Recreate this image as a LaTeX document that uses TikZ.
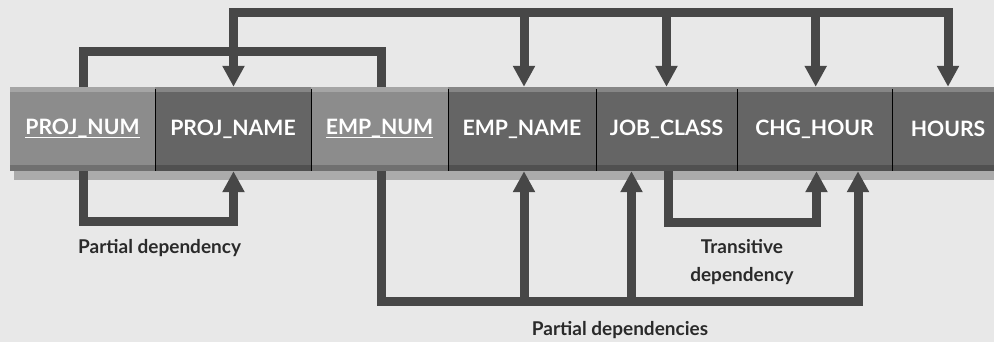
\documentclass[tikz,border=0pt]{standalone}
\usepackage{fontspec}
\setmainfont{Lato}
\usetikzlibrary{arrows.meta,calc}

\definecolor{bgc}{HTML}{E8E8E8}
\definecolor{linkc}{HTML}{474747}
\definecolor{keyc}{HTML}{8C8C8C}
\definecolor{attc}{HTML}{656565}
\definecolor{shadowc}{HTML}{ABABAB}
\definecolor{lblc}{HTML}{2A2A2A}

% underline for key attributes, set just under the baseline
\newcommand\keyattr[1]{\setbox0\hbox{#1}\rlap{\rule[-3.5pt]{\wd0}{1.8pt}}\box0}

\tikzset{
  cellbase/.style={rectangle, inner sep=0pt, minimum height=84pt, text=white,
    font=\bfseries\fontsize{21.2}{25}\selectfont},
  keycell/.style={cellbase, fill=keyc},
  attcell/.style={cellbase, fill=attc},
  link/.style={draw=linkc, line width=9pt, line join=miter},
  linkarrow/.style={link, -{Triangle[width=21pt,length=21pt]}},
  lbl/.style={text=lblc, align=center, inner sep=0pt,
    font=\bfseries\fontsize{19}{28}\selectfont},
  divider/.style={draw=black, line width=1.2pt}
}

\begin{document}
\begin{tikzpicture}[x=1pt, y=-1pt]
  \fill[bgc] (0,0) rectangle (994,342);
  \useasboundingbox (0,0) rectangle (994,342);

  % drop shadow under the record bar
  \fill[shadowc] (14,171) rectangle (994,180);

  % attribute cells
  \node[keycell, minimum width=145pt] (pnum)  at (82.5,129)  {\keyattr{PROJ\_NUM}};
  \node[attcell, minimum width=156pt] (pnam)  at (233,129)   {PROJ\_NAME};
  \node[keycell, minimum width=137pt] (enum)  at (379.5,129) {\keyattr{EMP\_NUM}};
  \node[attcell, minimum width=148pt] (enam)  at (522,129)   {EMP\_NAME};
  \node[attcell, minimum width=141pt] (jobc)  at (666.5,129) {JOB\_CLASS};
  \node[attcell, minimum width=155pt] (chg)   at (814.5,129) {CHG\_HOUR};
  \node[attcell, minimum width=112pt] (hours) at (948,129)   {HOURS};

  % bevel: light top edge, dark bottom edge
  \fill[white, opacity=0.22] (pnum.north west) rectangle ($(hours.north east)+(0,5)$);
  \fill[black, opacity=0.2] ($(pnum.south west)+(0,-6)$) rectangle (hours.south east);

  % cell dividers
  \foreach \c in {pnum,pnam,enum,enam,jobc,chg}
    \draw[divider] ($(\c.north east)+(0,2)$) -- (\c.south east);

  % connector ends on the top and bottom edges of the cells
  \coordinate (pnumT) at ([xshift=1pt]pnum.north);
  \coordinate (pnamT) at ([xshift=0.5pt]pnam.north);
  \coordinate (enumT) at ([xshift=1.5pt]enum.north);
  \coordinate (enamT) at ([xshift=2pt]enam.north);
  \coordinate (jobcT) at (jobc.north);
  \coordinate (chgT)  at ([xshift=1.2pt]chg.north);
  \coordinate (hoursT) at (hours.north);
  \coordinate (pnumB) at ([xshift=1pt]pnum.south);
  \coordinate (pnamB) at ([xshift=0.5pt]pnam.south);
  \coordinate (enumB) at ([xshift=1.5pt]enum.south);
  \coordinate (enamB) at ([xshift=2pt]enam.south);
  \coordinate (jobcB) at ([xshift=-35pt]jobc.south);
  \coordinate (jobcS) at ([xshift=2pt]jobc.south);
  \coordinate (chgB)  at ([xshift=2pt]chg.south);
  \coordinate (chgC)  at ([xshift=43.5pt]chg.south);

  % full dependencies from the composite key
  \coordinate (hub)  at ($(pnamT)+(0,-74)$);
  \coordinate (join) at ($(pnamT)+(0,-35)$);
  \draw[link] (pnumT) |- (join) -| (enumT);
  \draw[link, line cap=rect] (hub) -- (hub -| hoursT);
  \draw[linkarrow] (hub) -- (pnamT);
  \draw[linkarrow] (hub -| enamT) -- (enamT);
  \draw[linkarrow] (hub -| jobcT) -- (jobcT);
  \draw[linkarrow] (hub -| chgT) -- (chgT);
  \draw[linkarrow] (hub -| hoursT) -- (hoursT);

  % partial dependency on PROJ_NUM
  \draw[linkarrow] (pnumB) |- ($(pnamB)+(0,50.5)$) -- (pnamB);
  \node[lbl, anchor=west] (lpd) at (78,248) {Partial dependency};

  % transitive dependency JOB_CLASS -> CHG_HOUR
  \draw[linkarrow] (jobcS) |- ($(chgB)+(0,51)$) -- (chgB);
  \node[lbl] (ltd) at (742,262) {Transitive\\dependency};

  % partial dependencies on EMP_NUM
  \coordinate (base) at ($(enumB)+(0,130)$);
  \draw[linkarrow] (enumB) -- (base) -| (chgC);
  \draw[linkarrow] (base -| enamB) -- (enamB);
  \draw[linkarrow] (base -| jobcB) -- (jobcB);
  \node[lbl] (lpds) at (620,330) {Partial dependencies};
\end{tikzpicture}
\end{document}
